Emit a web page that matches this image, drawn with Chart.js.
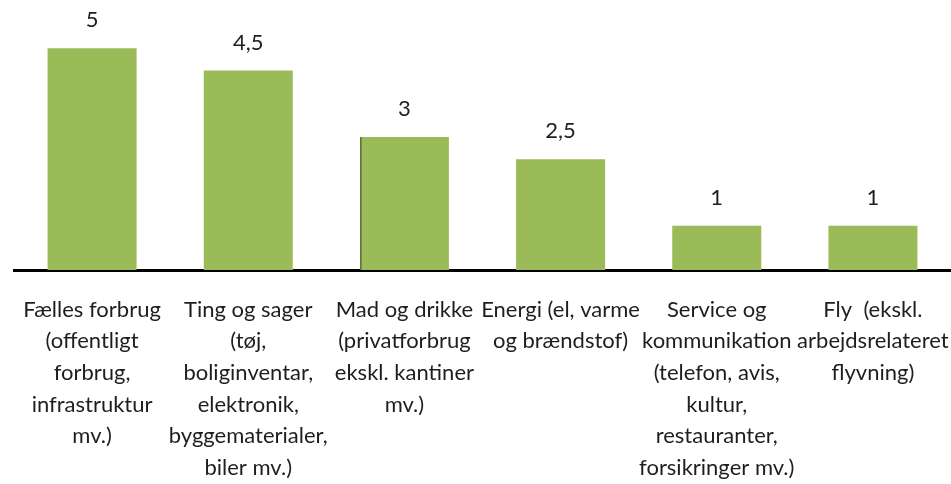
<!DOCTYPE html>
<html>
<head>
<meta charset="utf-8">
<script src="https://cdn.jsdelivr.net/npm/chart.js@4/dist/chart.umd.min.js"></script>
<style>
html,body{margin:0;padding:0;background:#fff;}
#wrap{width:951px;height:484px;}
</style>
</head>
<body>
<div id="wrap"><canvas id="c" width="951" height="484"></canvas></div>
<script>
const categories = [
  ["Fælles forbrug", "(offentligt", "forbrug,", "infrastruktur", "mv.)"],
  ["Ting og sager", "(tøj,", "boliginventar,", "elektronik,", "byggematerialer,", "biler mv.)"],
  ["Mad og drikke", "(privatforbrug", "ekskl. kantiner", "mv.)"],
  ["Energi (el, varme", "og brændstof)"],
  ["Service og", "kommunikation", "(telefon, avis,", "kultur,", "restauranter,", "forsikringer mv.)"],
  ["Fly  (ekskl.", "arbejdsrelateret", "flyvning)"]
];
const values = [5, 4.5, 3, 2.5, 1, 1];

const FONT = 'Lato, "Open Sans", sans-serif';
const TEXT = '#1e1e1e';

const valueLabels = {
  id: 'valueLabels',
  afterDatasetsDraw(chart) {
    const ctx = chart.ctx;
    const meta = chart.getDatasetMeta(0);
    ctx.save();
    ctx.font = '22px ' + FONT;
    ctx.fillStyle = TEXT;
    ctx.textAlign = 'center';
    ctx.textBaseline = 'middle';
    meta.data.forEach((bar, i) => {
      const v = chart.data.datasets[0].data[i];
      ctx.fillText(String(v).replace('.', ','), bar.x, bar.y - 28);
    });
    ctx.restore();
  }
};

new Chart(document.getElementById('c'), {
  type: 'bar',
  data: {
    labels: categories,
    datasets: [{
      data: values,
      backgroundColor: '#9BBB59',
      borderColor: '#5e7a38',
      borderWidth: (ctx) => ctx.dataIndex === 2 ? { left: 2, right: 0, top: 0, bottom: 0 } : 0,
      borderSkipped: false,
      categoryPercentage: 1,
      barPercentage: 0.57
    }]
  },
  options: {
    responsive: false,
    devicePixelRatio: 1,
    animation: false,
    layout: { padding: { left: 14, right: 0, top: 4, bottom: 0 } },
    plugins: { legend: { display: false }, tooltip: { enabled: false } },
    scales: {
      x: {
        grid: { display: false, drawTicks: false },
        border: { display: true, color: '#000', width: 3 },
        ticks: {
          color: TEXT,
          font: { family: FONT, size: 22, lineHeight: 1.436 },
          padding: 24,
          maxRotation: 0,
          minRotation: 0,
          autoSkip: false
        },
        afterFit(scale) {
          scale.height = 214;
          scale.paddingLeft = 0;
          scale.paddingRight = 0;
        }
      },
      y: {
        display: false,
        min: 0,
        max: 6
      }
    }
  },
  plugins: [valueLabels]
});
</script>
</body>
</html>
